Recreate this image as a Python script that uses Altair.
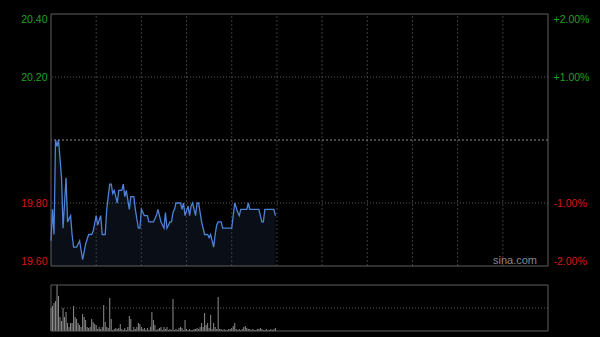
import altair as alt
import pandas as pd

# price line vertices (minute index from 09:30, price)
minutes = [0, 1, 2, 3, 4, 5, 7, 8, 10, 11, 13, 14, 15, 17, 19, 20, 21, 23, 25, 27, 28, 30, 31, 33, 34, 36,
           37, 39, 40, 41, 42, 43, 44, 45, 47, 48, 49, 50, 52, 53, 55, 56, 57, 58, 59, 60, 62, 64, 65, 68,
           70, 71, 72, 73, 75, 76, 77, 79, 80, 81, 82, 83, 86, 87, 88, 89, 91, 92, 93, 94, 96, 97, 98, 100,
           101, 102, 104, 105, 106, 108, 109, 110, 111, 113, 114, 120, 122, 124, 125, 126, 130, 131, 132,
           138, 140, 141, 142, 148, 149]
prices = [19.68, 19.78, 19.70, 20.00, 19.98, 20.00, 19.88, 19.72, 19.88, 19.74, 19.76, 19.70, 19.66, 19.66,
          19.68, 19.65, 19.62, 19.67, 19.70, 19.70, 19.71, 19.76, 19.73, 19.76, 19.70, 19.70,
          19.78, 19.86, 19.86, 19.83, 19.84, 19.82, 19.80, 19.84, 19.84, 19.86, 19.82, 19.84, 19.78, 19.82,
          19.82, 19.78, 19.75, 19.72, 19.72, 19.78, 19.76, 19.76, 19.74, 19.74,
          19.76, 19.78, 19.76, 19.74, 19.72, 19.77, 19.72, 19.74, 19.74, 19.77, 19.78, 19.80, 19.80, 19.78,
          19.80, 19.76, 19.79, 19.76, 19.79, 19.80, 19.76, 19.80, 19.80, 19.74,
          19.72, 19.70, 19.70, 19.69, 19.70, 19.66, 19.70, 19.73, 19.74, 19.74, 19.72, 19.72, 19.80, 19.77,
          19.76, 19.78, 19.78, 19.80, 19.78, 19.78, 19.74, 19.74, 19.78, 19.78, 19.76]

# per-minute volume (relative units)
volumes = [23, 25, 28, 30, 46, 35, 14, 10, 23, 14, 19, 8, 4, 8, 8, 25, 14, 12, 8, 6,
           4, 17, 14, 11, 4, 3, 4, 12, 9, 7, 6, 2, 4, 2, 4, 26, 9, 4, 3, 33,
           12, 1, 2, 3, 2, 3, 7, 2, 1, 3, 1, 4, 15, 12, 1, 4, 2, 4, 8, 7,
           4, 2, 3, 1, 3, 1, 4, 19, 11, 6, 1, 2, 3, 4, 1, 4, 2, 4, 1, 2,
           1, 32, 1, 2, 1, 3, 4, 3, 1, 11, 2, 1, 2, 1, 1, 2, 2, 3, 2, 4,
           8, 4, 18, 6, 8, 3, 16, 2, 8, 4, 2, 34, 2, 2, 1, 2, 1, 1, 2, 2,
           3, 5, 8, 2, 1, 2, 1, 2, 4, 5, 3, 2, 2, 1, 2, 1, 1, 2, 2, 3,
           2, 1, 1, 2, 1, 1, 2, 1, 2, 3]

left_ticks = [19.6, 19.8, 20.2, 20.4]
grid_prices = [19.8, 20.2]
preclose = 20.0
time_grid = [30, 60, 90, 120, 150, 180, 210, 240, 270, 300]
x_edges = [0, 330]
p_edges = [19.6, 20.4]
v_edges = [0, 46]

FONT = "Liberation Sans"
W = 497
H = 317

price_df = pd.DataFrame({"m": minutes, "p": prices})
vol_df = pd.DataFrame({"m": list(range(len(volumes))), "v": volumes})

xs = alt.Scale(domain=[0, 330], nice=False, zero=False)


def ps():
    return alt.Scale(domain=[19.6, 20.4], range=[252, 0], nice=False, zero=False)


def vs():
    return alt.Scale(domain=[0, 46], range=[317, 271], nice=False, zero=False)


label_color = alt.expr("datum.value > 20 ? '#1fa01f' : '#d81818'")
X = alt.X("m:Q", scale=xs, axis=None)

area = alt.Chart(price_df).mark_area(color="#0a0e17", opacity=1).encode(
    x=X,
    y=alt.Y("p:Q", scale=ps(), axis=alt.Axis(
        orient="right", values=left_ticks, grid=False, domain=False, ticks=False,
        labelFlush=True, labelPadding=5, labelFont=FONT, labelFontSize=10.5,
        labelColor=label_color, title=None,
        labelExpr="(datum.value > 20 ? '+' : '-') + format(abs(datum.value - 20) / 20 * 100, '.2f') + '%'")),
    y2=alt.datum(19.6),
)

vgrid = alt.Chart(pd.DataFrame({"m": time_grid})).mark_rule(
    color="#3c3c3c", strokeDash=[2, 2], strokeWidth=1).encode(
    x=X, y=alt.YDatum(19.6, scale=ps(), axis=None), y2=alt.datum(20.4))
hgrid = alt.Chart(pd.DataFrame({"p": grid_prices})).mark_rule(
    color="#5a5a5a", strokeDash=[1, 2], strokeWidth=1).encode(
    y=alt.Y("p:Q", scale=ps(), axis=None))
pre = alt.Chart(pd.DataFrame({"p": [preclose]})).mark_rule(
    color="#8a8a8a", strokeDash=[2, 2], strokeWidth=1).encode(
    y=alt.Y("p:Q", scale=ps(), axis=None))

pborder_h = alt.Chart(pd.DataFrame({"p": p_edges})).mark_rule(color="#5f5f5f").encode(
    y=alt.Y("p:Q", scale=ps(), axis=None))
pborder_v = alt.Chart(pd.DataFrame({"m": x_edges})).mark_rule(color="#5f5f5f").encode(
    x=X, y=alt.YDatum(19.6, scale=ps(), axis=None), y2=alt.datum(20.4))

line = alt.Chart(price_df).mark_line(color="#4d82d6", strokeWidth=1.3).encode(
    x=X,
    y=alt.Y("p:Q", scale=ps(), axis=alt.Axis(
        orient="left", values=left_ticks, grid=False, domain=False, ticks=False,
        labelFlush=True, labelPadding=4, labelFont=FONT, labelFontSize=10.5,
        labelColor=label_color, format=".2f", title=None)),
)

txt = alt.Chart(pd.DataFrame({"t": ["sina.com"]})).mark_text(
    align="right", baseline="alphabetic", font=FONT, fontSize=11, color="#8a8a8a").encode(
    x=alt.value(486), y=alt.value(250), text="t:N")

vbars = alt.Chart(vol_df).mark_rule(color="#8c8c8c", strokeWidth=1).encode(
    x=X, y=alt.Y("v:Q", scale=vs(), axis=None), y2=alt.datum(0))
vmid = alt.Chart(pd.DataFrame({"v": [23]})).mark_rule(color="#5a5a5a", strokeDash=[1, 2]).encode(
    y=alt.Y("v:Q", scale=vs(), axis=None))
vborder_h = alt.Chart(pd.DataFrame({"v": v_edges})).mark_rule(color="#5f5f5f").encode(
    y=alt.Y("v:Q", scale=vs(), axis=None))
vborder_v = alt.Chart(pd.DataFrame({"m": x_edges})).mark_rule(color="#5f5f5f").encode(
    x=X, y=alt.YDatum(0, scale=vs(), axis=None), y2=alt.datum(46))

chart = alt.layer(
    area, vgrid, hgrid, pre, pborder_h, pborder_v, line, txt,
    vmid, vbars, vborder_h, vborder_v,
).resolve_scale(y="independent").resolve_axis(y="independent").properties(
    width=W, height=H,
    autosize=alt.AutoSizeParams(type="none"),
    padding={"left": 51, "top": 14, "right": 52, "bottom": 6},
    background="#000000",
).configure_view(stroke=None)

chart.save("out.html", embed_options={"renderer": "svg", "actions": False})
